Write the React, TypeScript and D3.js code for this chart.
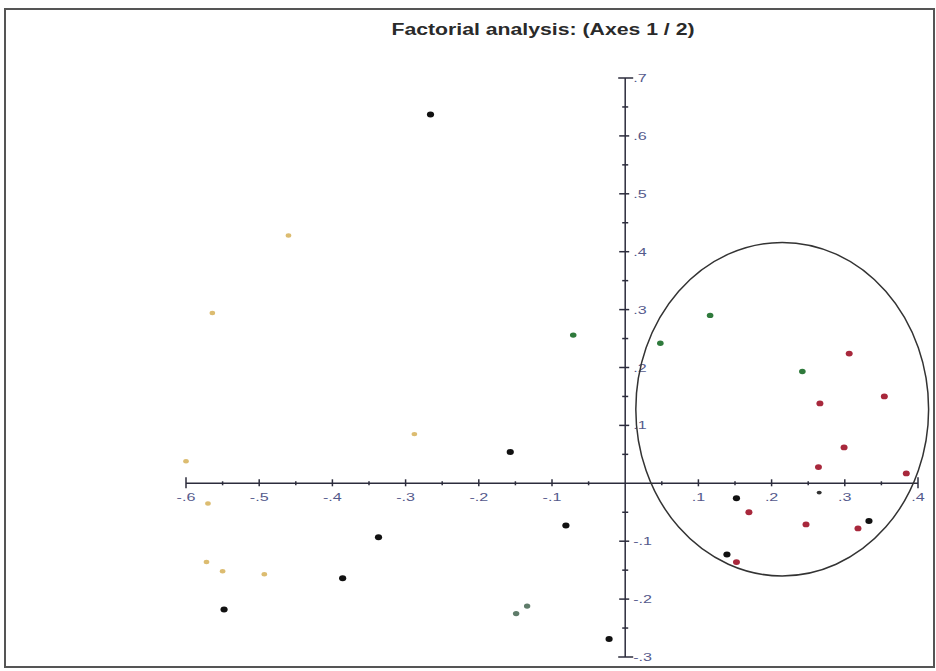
import { useEffect, useRef } from "react";
import * as d3 from "d3";

// factor scores, [axis 1, axis 2]
const blackPoints: [number, number][] = [
  [-0.266, 0.637],
  [-0.157, 0.054],
  [-0.081, -0.073],
  [-0.337, -0.093],
  [-0.386, -0.164],
  [-0.548, -0.218],
  [-0.022, -0.269],
  [0.152, -0.026],
  [0.139, -0.123],
  [0.333, -0.065],
];
const smallBlackPoints: [number, number][] = [[0.265, -0.016]];
const greenPoints: [number, number][] = [
  [-0.071, 0.256],
  [0.048, 0.242],
  [0.116, 0.29],
  [0.242, 0.193],
];
const greyGreenPoints: [number, number][] = [
  [-0.149, -0.225],
  [-0.134, -0.212],
];
const redPoints: [number, number][] = [
  [0.306, 0.224],
  [0.354, 0.15],
  [0.266, 0.138],
  [0.299, 0.062],
  [0.264, 0.028],
  [0.384, 0.017],
  [0.169, -0.05],
  [0.247, -0.071],
  [0.318, -0.078],
  [0.152, -0.136],
];
const yellowPoints: [number, number][] = [
  [-0.46, 0.428],
  [-0.564, 0.294],
  [-0.288, 0.085],
  [-0.6, 0.038],
  [-0.57, -0.035],
  [-0.572, -0.136],
  [-0.55, -0.152],
  [-0.493, -0.157],
];

// ellipse around the right-hand group: centre and radii in data units
const ellipseCentre: [number, number] = [0.2145, 0.128];
const ellipseRadii: [number, number] = [0.2, 0.288];

const xTicks = [-0.6, -0.5, -0.4, -0.3, -0.2, -0.1, 0.1, 0.2, 0.3, 0.4];
const yTicks = [0.7, 0.6, 0.5, 0.4, 0.3, 0.2, 0.1, -0.1, -0.2, -0.3];

const fmt = (v: number) => (v < 0 ? "-" : "") + "." + Math.round(Math.abs(v) * 10);

const App = () => {
  const ref = useRef<SVGSVGElement>(null);

  useEffect(() => {
    const svg = d3.select(ref.current);
    svg.selectAll("*").remove();

    const x = d3.scaleLinear().domain([-0.6, 0.4]).range([186, 918]);
    const y = d3.scaleLinear().domain([-0.3, 0.7]).range([657, 78]);
    const axisColor = "#2c2c3c";
    const labelColor = "#555a8c";
    const stretch = 1.4;

    // frame
    svg
      .append("rect")
      .attr("x", 5)
      .attr("y", 9)
      .attr("width", 929)
      .attr("height", 658)
      .attr("fill", "white")
      .attr("stroke", "#555")
      .attr("stroke-width", 2);

    // title
    svg
      .append("text")
      .attr("x", 543)
      .attr("y", 35)
      .attr("text-anchor", "middle")
      .attr("font-family", "Liberation Sans, Arial, sans-serif")
      .attr("font-weight", "bold")
      .attr("font-size", 16)
      .attr("fill", "#2a2a2a")
      .attr("textLength", 303)
      .attr("lengthAdjust", "spacingAndGlyphs")
      .text("Factorial analysis: (Axes 1 / 2)");

    const g = svg.append("g");
    const x0 = x(0);
    const y0 = y(0);

    // x axis
    g.append("line")
      .attr("x1", x(-0.6))
      .attr("x2", x(0.4))
      .attr("y1", y0)
      .attr("y2", y0)
      .attr("stroke", axisColor)
      .attr("stroke-width", 1.5);
    const xMinor = d3.range(-0.55, 0.4, 0.1);
    g.selectAll(".xminor")
      .data(xMinor)
      .enter()
      .append("line")
      .attr("x1", (d) => x(d))
      .attr("x2", (d) => x(d))
      .attr("y1", y0 - 2)
      .attr("y2", y0 + 2)
      .attr("stroke", axisColor)
      .attr("stroke-width", 1.5);
    g.selectAll(".xmajor")
      .data(xTicks)
      .enter()
      .append("line")
      .attr("x1", (d) => x(d))
      .attr("x2", (d) => x(d))
      .attr("y1", (d) => y0 - (d === -0.6 || d === 0.4 ? 6 : 4))
      .attr("y2", (d) => y0 + (d === -0.6 || d === 0.4 ? 5 : 3))
      .attr("stroke", axisColor)
      .attr("stroke-width", 1.5);
    g.selectAll(".xlabel")
      .data(xTicks)
      .enter()
      .append("text")
      .attr("transform", (d) => `translate(${x(d)},${y0 + 18}) scale(${stretch},1)`)
      .attr("text-anchor", "middle")
      .attr("font-family", "Liberation Sans, Arial, sans-serif")
      .attr("font-size", 11.5)
      .attr("fill", labelColor)
      .text(fmt);

    // y axis
    g.append("line")
      .attr("x1", x0)
      .attr("x2", x0)
      .attr("y1", y(0.7))
      .attr("y2", y(-0.3))
      .attr("stroke", axisColor)
      .attr("stroke-width", 1.5);
    const yMinor = d3.range(-0.25, 0.7, 0.1);
    g.selectAll(".yminor")
      .data(yMinor)
      .enter()
      .append("line")
      .attr("x1", x0 - 3)
      .attr("x2", x0 + 3)
      .attr("y1", (d) => y(d))
      .attr("y2", (d) => y(d))
      .attr("stroke", axisColor)
      .attr("stroke-width", 1.5);
    g.selectAll(".ymajor")
      .data(yTicks)
      .enter()
      .append("line")
      .attr("x1", (d) => x0 - (d === 0.7 || d === -0.3 ? 7 : 6))
      .attr("x2", (d) => x0 + (d === 0.7 || d === -0.3 ? 8 : 4))
      .attr("y1", (d) => y(d))
      .attr("y2", (d) => y(d))
      .attr("stroke", axisColor)
      .attr("stroke-width", 1.5);
    g.selectAll(".ylabel")
      .data(yTicks)
      .enter()
      .append("text")
      .attr("transform", (d) => `translate(${x0 + 8},${y(d) + 4}) scale(${stretch},1)`)
      .attr("font-family", "Liberation Sans, Arial, sans-serif")
      .attr("font-size", 11.5)
      .attr("fill", labelColor)
      .text(fmt);

    // ellipse
    g.append("ellipse")
      .attr("cx", x(ellipseCentre[0]))
      .attr("cy", y(ellipseCentre[1]))
      .attr("rx", x(ellipseRadii[0]) - x(0))
      .attr("ry", y(0) - y(ellipseRadii[1]))
      .attr("fill", "none")
      .attr("stroke", "#333")
      .attr("stroke-width", 1.5);

    // points
    const drawPoints = (pts: [number, number][], fill: string, r: number) => {
      g.append("g")
        .selectAll("ellipse")
        .data(pts)
        .enter()
        .append("ellipse")
        .attr("cx", (d) => x(d[0]))
        .attr("cy", (d) => y(d[1]))
        .attr("rx", r + 0.6)
        .attr("ry", r)
        .attr("fill", fill);
    };
    drawPoints(yellowPoints, "#dcbc70", 2.2);
    drawPoints(greyGreenPoints, "#5f7c6a", 2.6);
    drawPoints(greenPoints, "#2f7a3c", 2.7);
    drawPoints(redPoints, "#a8283c", 2.9);
    drawPoints(blackPoints, "#111", 3);
    drawPoints(smallBlackPoints, "#333", 1.9);
  }, []);

  return (
    <svg
      ref={ref}
      width={936}
      height={671}
      style={{ position: "absolute", left: 0, top: 0, background: "white" }}
    />
  );
};

export default App;
